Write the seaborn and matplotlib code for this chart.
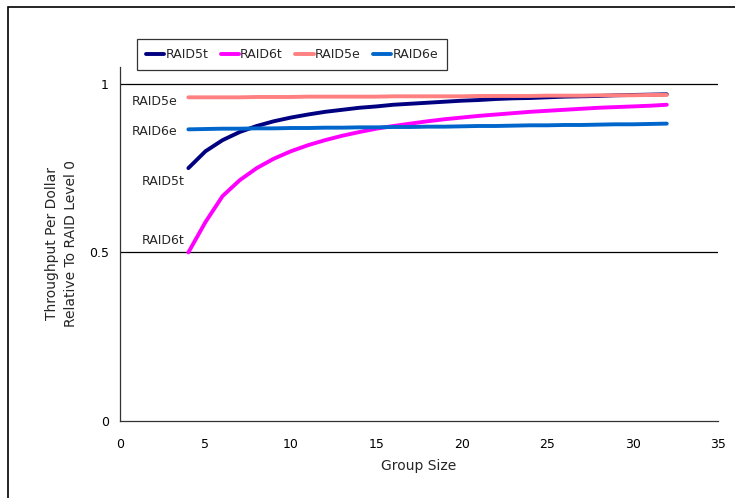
import pandas as pd
import matplotlib.pyplot as plt
import matplotlib.patches as patches
import seaborn as sns

group_size = list(range(4, 33))
raid5t = [0.750, 0.800, 0.833, 0.857, 0.875, 0.889, 0.900, 0.909, 0.917, 0.923,
          0.929, 0.933, 0.938, 0.941, 0.944, 0.947, 0.950, 0.952, 0.955, 0.957,
          0.958, 0.960, 0.962, 0.963, 0.964, 0.966, 0.967, 0.968, 0.969]
raid6t = [0.500, 0.590, 0.667, 0.714, 0.750, 0.778, 0.800, 0.818, 0.833, 0.846,
          0.857, 0.867, 0.875, 0.882, 0.889, 0.895, 0.900, 0.905, 0.909, 0.913,
          0.917, 0.920, 0.923, 0.926, 0.929, 0.931, 0.933, 0.935, 0.938]
raid5e = [0.960, 0.960, 0.960, 0.960, 0.961, 0.961, 0.961, 0.962, 0.962, 0.962,
          0.962, 0.962, 0.963, 0.963, 0.963, 0.963, 0.963, 0.964, 0.964, 0.964,
          0.964, 0.965, 0.965, 0.965, 0.966, 0.966, 0.966, 0.967, 0.967]
raid6e = [0.865, 0.866, 0.867, 0.867, 0.868, 0.868, 0.869, 0.869, 0.870, 0.870,
          0.871, 0.871, 0.872, 0.872, 0.873, 0.873, 0.874, 0.875, 0.875, 0.876,
          0.877, 0.877, 0.878, 0.878, 0.879, 0.880, 0.880, 0.881, 0.882]

series_names = ["RAID5t", "RAID6t", "RAID5e", "RAID6e"]
colors = {"RAID5t": "#000080", "RAID6t": "#FF00FF",
          "RAID5e": "#FF8080", "RAID6e": "#0066CC"}

rows = []
for name, vals in zip(series_names, [raid5t, raid6t, raid5e, raid6e]):
    for x, y in zip(group_size, vals):
        rows.append({"Group Size": x, "value": y, "series": name})
df = pd.DataFrame(rows)

sns.set_style("white")
plt.rcParams["font.family"] = ["DejaVu Sans"]

fig = plt.figure(figsize=(7.35, 4.98), dpi=100)
ax = fig.add_axes([0.1633, 0.1546, 0.8136, 0.7109])

# excel-like outer frame
fig.patches.append(patches.Rectangle((8 / 735, -0.05), 1.0, 1 - 7 / 498 + 0.05,
                                     transform=fig.transFigure, fill=False,
                                     edgecolor="black", linewidth=1.2))

for y in [0.5, 1.0]:
    ax.axhline(y, color="black", linewidth=0.9, zorder=1)

sns.lineplot(data=df, x="Group Size", y="value", hue="series",
             hue_order=series_names, palette=colors, linewidth=2.8,
             solid_capstyle="round", solid_joinstyle="round", ax=ax, zorder=3)

ax.set_xlim(0, 35)
ax.set_ylim(0, 1.05)
ax.set_xticks([0, 5, 10, 15, 20, 25, 30, 35])
ax.set_yticks([0, 0.5, 1])
ax.set_yticklabels(["0", "0.5", "1"])
ax.tick_params(axis="x", direction="inout", length=8, width=0.9, labelsize=9,
               pad=8, colors="#333333", labelcolor="black")
ax.tick_params(axis="y", direction="out", length=5, width=0.9, labelsize=9,
               pad=3, colors="#333333", labelcolor="black")
for s in ["top", "right"]:
    ax.spines[s].set_visible(False)
for s in ["left", "bottom"]:
    ax.spines[s].set_color("#333333")
    ax.spines[s].set_linewidth(0.9)

ax.set_xlabel("Group Size", fontsize=10, labelpad=6)
ax.set_ylabel("Throughput Per Dollar\nRelative To RAID Level 0", fontsize=10,
              labelpad=8, linespacing=1.4)

# inline labels
ax.text(3.35, 0.947, "RAID5e", ha="right", va="center", fontsize=9)
ax.text(3.35, 0.858, "RAID6e", ha="right", va="center", fontsize=9)
ax.text(3.8, 0.709, "RAID5t", ha="right", va="center", fontsize=9)
ax.text(3.8, 0.534, "RAID6t", ha="right", va="center", fontsize=9)

handles, labels = ax.get_legend_handles_labels()
ax.legend(handles, labels, ncol=4, loc="center",
          bbox_to_anchor=(292 / 735, 1 - 54.5 / 498),
          bbox_transform=fig.transFigure, fontsize=9, frameon=True,
          fancybox=False, edgecolor="black", handlelength=1.45,
          handletextpad=0.1, columnspacing=1.0, borderpad=0.75)
ax.get_legend().get_frame().set_linewidth(0.9)

fig.savefig("out.png", dpi=100)
